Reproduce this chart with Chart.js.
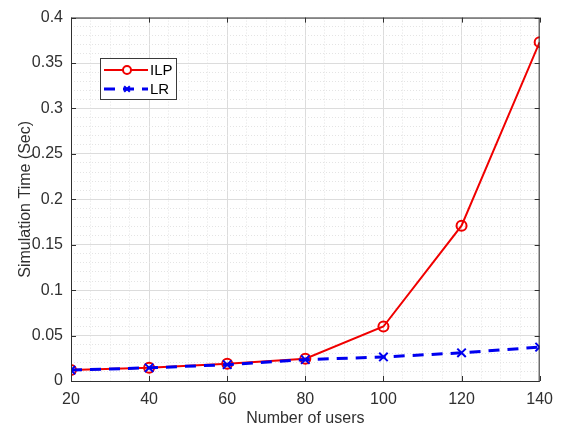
<!DOCTYPE html>
<html>
<head>
<meta charset="utf-8">
<script src="https://cdn.jsdelivr.net/npm/chart.js@4/dist/chart.umd.min.js"></script>
<style>
  html, body { margin: 0; padding: 0; background: #fff; }
  #wrap { width: 562px; height: 430px; }
</style>
</head>
<body>
<div id="wrap"><canvas id="chart" width="562" height="430"></canvas></div>
<script>
const users = [20, 40, 60, 80, 100, 120, 140];
const ilpTime = [0.012, 0.0145, 0.019, 0.0245, 0.060, 0.171, 0.373];
const lrTime = [0.012, 0.0145, 0.018, 0.0235, 0.0265, 0.031, 0.0373];
const seriesNames = ["ILP", "LR"];

const AXIS = "#303030";
const FONT = "'Liberation Sans', Arial, sans-serif";
const isMajorX = (v) => Math.round(v) % 20 === 0;
const isMajorY = (v) => Math.round(v * 100) % 5 === 0;

// box round the plot, inward ticks and the legend
const matlabFrame = {
  id: "matlabFrame",
  afterDraw(chart) {
    const { ctx, chartArea: a, scales } = chart;
    ctx.save();
    ctx.strokeStyle = AXIS;
    ctx.lineWidth = 1;
    ctx.strokeRect(a.left + 0.5, a.top + 0.5, a.right - a.left - 1, a.bottom - a.top);
    ctx.beginPath();
    scales.x.ticks.forEach((t) => {
      if (!isMajorX(t.value)) return;
      const px = Math.round(scales.x.getPixelForValue(t.value)) + 0.5;
      ctx.moveTo(px, a.bottom); ctx.lineTo(px, a.bottom - 5);
      ctx.moveTo(px, a.top); ctx.lineTo(px, a.top + 5);
    });
    scales.y.ticks.forEach((t) => {
      if (!isMajorY(t.value)) return;
      const py = Math.round(scales.y.getPixelForValue(t.value)) + 0.5;
      ctx.moveTo(a.left, py); ctx.lineTo(a.left + 5, py);
      ctx.moveTo(a.right, py); ctx.lineTo(a.right - 5, py);
    });
    ctx.stroke();

    // legend
    const lx = 100, ly = 58, lw = 76, lh = 41;
    ctx.fillStyle = "#fff";
    ctx.fillRect(lx, ly, lw, lh);
    ctx.strokeStyle = "#3a3a3a";
    ctx.strokeRect(lx + 0.5, ly + 0.5, lw, lh);
    chart.data.datasets.forEach((ds, i) => {
      const y = ly + 12 + i * 19;
      ctx.strokeStyle = ds.borderColor;
      ctx.lineWidth = ds.borderWidth;
      ctx.setLineDash(ds.borderDash || []);
      ctx.beginPath();
      ctx.moveTo(lx + 4, y); ctx.lineTo(lx + 48, y);
      ctx.stroke();
      ctx.setLineDash([]);
      ctx.lineWidth = ds.pointBorderWidth;
      Chart.helpers.drawPoint(ctx, {
        pointStyle: ds.pointStyle, radius: 4,
        borderWidth: ds.pointBorderWidth, rotation: 0
      }, lx + 27, y);
      ctx.fillStyle = "#000";
      ctx.font = "15px " + FONT;
      ctx.textBaseline = "middle";
      ctx.fillText(ds.label, lx + 50, y + 1);
    });
    ctx.restore();
  }
};

new Chart(document.getElementById("chart"), {
  type: "line",
  data: {
    labels: users,
    datasets: [
      {
        label: seriesNames[0],
        data: users.map((u, i) => ({ x: u, y: ilpTime[i] })),
        borderColor: "#f00000",
        backgroundColor: "#fff",
        borderWidth: 2,
        pointStyle: "circle",
        pointRadius: 5,
        pointBorderWidth: 2,
        pointBackgroundColor: "rgba(255,255,255,0)",
        pointBorderColor: "#f00000",
        order: 1
      },
      {
        label: seriesNames[1],
        data: users.map((u, i) => ({ x: u, y: lrTime[i] })),
        borderColor: "#0000f0",
        backgroundColor: "#fff",
        borderWidth: 3,
        borderDash: [11, 8],
        pointStyle: "crossRot",
        pointRadius: 6,
        pointBorderWidth: 2,
        pointBorderColor: "#0000f0",
        order: 0
      }
    ]
  },
  options: {
    responsive: false,
    animation: false,
    layout: { padding: { top: 13, right: 22, left: 0, bottom: 0 } },
    plugins: { legend: { display: false }, tooltip: { enabled: false } },
    scales: {
      x: {
        type: "linear",
        min: 20,
        max: 140,
        afterFit: (s) => { s.height = 49; },
        ticks: {
          stepSize: 5,
          autoSkip: false,
          maxRotation: 0,
          padding: 9,
          color: AXIS,
          font: { size: 16, family: FONT },
          callback: (v) => (isMajorX(v) ? String(v) : "")
        },
        grid: {
          drawTicks: false,
          color: (c) => (isMajorX(c.tick.value) ? "#dcdcdc" : "#e4e4e4"),
          lineWidth: 1
        },
        border: {
          display: false,
          dash: (c) => (c.tick && isMajorX(c.tick.value) ? [] : [1, 2])
        },
        title: {
          display: true,
          text: "Number of users",
          color: AXIS,
          padding: { top: 2, bottom: 2 },
          font: { size: 16, family: FONT }
        }
      },
      y: {
        min: 0,
        max: 0.4,
        afterFit: (s) => { s.width = 71; },
        ticks: {
          stepSize: 0.01,
          autoSkip: false,
          padding: 8,
          color: AXIS,
          font: { size: 16, family: FONT },
          callback: (v) => (isMajorY(v) ? String(+v.toFixed(2)) : "")
        },
        grid: {
          drawTicks: false,
          color: (c) => (isMajorY(c.tick.value) ? "#dcdcdc" : "#e4e4e4"),
          lineWidth: 1
        },
        border: {
          display: false,
          dash: (c) => (c.tick && isMajorY(c.tick.value) ? [] : [1, 2])
        },
        title: {
          display: true,
          text: "Simulation Time (Sec)",
          color: AXIS,
          padding: { top: 16, bottom: 0 },
          font: { size: 16, family: FONT }
        }
      }
    }
  },
  plugins: [matlabFrame]
});
</script>
</body>
</html>
